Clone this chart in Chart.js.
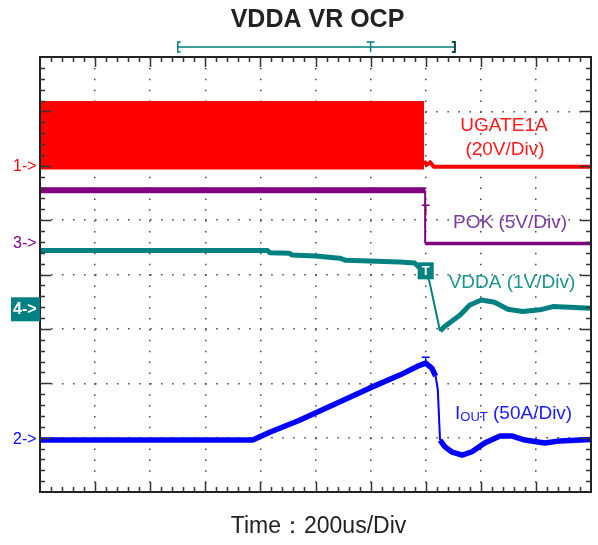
<!DOCTYPE html>
<html>
<head>
<meta charset="utf-8">
<script src="https://cdn.jsdelivr.net/npm/chart.js@4.4.0/dist/chart.umd.min.js"></script>
<style>
  html, body { margin: 0; padding: 0; background: #fff; }
  #wrap { width: 598px; height: 545px; position: relative; }
</style>
</head>
<body>
<div id="wrap"><canvas id="scope" width="598" height="545"></canvas></div>
<script>
// Screen is 10 x 8 divisions, time base 200us/div
var DIV_X = 10, DIV_Y = 8;

// UGATE1A (ch1) - switching envelope, then the off level after OCP
var ugateEnvX  = [0, 6.97];
var ugateEnvHi = [7.18, 7.18];
var ugateEnvLo = [5.94, 5.94];
var ugateOffX  = [6.97, 7.02, 7.08, 7.15, 10];
var ugateOffY  = [6.08, 6.02, 6.06, 5.98, 5.98];

// POK (ch3)
var pokX = [0, 6.99, 6.99, 10];
var pokY = [5.55, 5.55, 4.57, 4.57];

// VDDA (ch4)
var vddaX = [0, 4.13, 4.17, 4.53, 4.57, 5.0, 5.44, 5.55, 6.53, 6.80, 6.86, 7.0, 7.07, 7.26, 7.35, 7.62, 7.8, 8.01, 8.25, 8.49, 8.76, 9.07, 9.31, 10];
var vddaY = [4.44, 4.44, 4.40, 4.39, 4.36, 4.34, 4.30, 4.26, 4.23, 4.21, 4.15, 4.04, 3.86, 2.96, 3.05, 3.25, 3.44, 3.53, 3.49, 3.36, 3.32, 3.35, 3.41, 3.38];

// IOUT (ch2)
var ioutX = [0, 3.86, 4.17, 4.71, 5.98, 6.53, 6.89, 7.0, 7.11, 7.18, 7.22, 7.26, 7.35, 7.47, 7.66, 7.84, 8.07, 8.35, 8.56, 8.80, 9.16, 9.44, 10];
var ioutY = [0.956, 0.956, 1.10, 1.32, 1.91, 2.15, 2.33, 2.37, 2.28, 2.13, 1.88, 0.956, 0.83, 0.74, 0.68, 0.74, 0.90, 1.03, 1.03, 0.956, 0.90, 0.94, 0.965];

// channel ground markers on the left edge
var markerNames  = ['1->', '3->', '4->', '2->'];
var markerLevels = [5.98, 4.57, 3.36, 0.956];

// trigger and memory bar
var triggerX = 7.0;
var memBarStart = 2.5, memBarEnd = 7.53, memBarTrig = 6.0;

var RED = '#ff0000', PURPLE = '#800080', TEAL = '#008080', BLUE = '#0000ff';

function pts(xs, ys) {
	var out = [];
	for (var i = 0; i < xs.length; i++) out.push({ x: xs[i], y: ys[i] });
	return out;
}

// steep edges of a scope trace look thin, flat parts look thick
function traceWidth(thick, thin) {
	return function (ctx) {
		var dx = Math.abs(ctx.p1.x - ctx.p0.x), dy = Math.abs(ctx.p1.y - ctx.p0.y);
		return dy > 2.5 * dx ? thin : thick;
	};
}

var scopePlugin = {
	id: 'scopeDecor',
	afterDatasetsDraw: function (chart) {
		var c = chart.ctx, xs = chart.scales.x, ys = chart.scales.y, a = chart.chartArea;
		var tx = xs.getPixelForValue(triggerX);
		c.save();
		// trigger marks on traces
		c.strokeStyle = PURPLE; c.lineWidth = 1.5;
		var py = ys.getPixelForValue(5.2);
		c.beginPath(); c.moveTo(tx - 4, py - 4); c.lineTo(tx + 4, py - 4); c.moveTo(tx, py - 4); c.lineTo(tx, py + 6); c.stroke();
		c.strokeStyle = BLUE;
		var iy = ys.getPixelForValue(2.37);
		c.beginPath(); c.moveTo(tx - 4, iy - 6); c.lineTo(tx + 4, iy - 6); c.moveTo(tx, iy - 6); c.lineTo(tx, iy); c.stroke();
		// T box on VDDA
		var vy = ys.getPixelForValue(4.04);
		c.fillStyle = TEAL;
		c.fillRect(tx - 8, vy - 10, 16, 17);
		c.fillStyle = '#fff';
		c.font = 'bold 13px "Liberation Sans", Arial, sans-serif';
		c.textAlign = 'center'; c.textBaseline = 'middle';
		c.fillText('T', tx, vy - 1);
		c.restore();
	},
	afterDraw: function (chart) {
		var c = chart.ctx, xs = chart.scales.x, ys = chart.scales.y, a = chart.chartArea;
		var i, p, len;
		c.save();
		// frame
		c.strokeStyle = '#222'; c.lineWidth = 2;
		c.strokeRect(a.left, a.top, a.right - a.left, a.bottom - a.top);
		// inward ticks, 5 per division
		c.strokeStyle = '#333'; c.lineWidth = 1.5;
		c.beginPath();
		for (i = 1; i < DIV_X * 5; i++) {
			p = Math.round(xs.getPixelForValue(i / 5)) + 0.5;
			len = i % 5 === 0 ? 10 : 5;
			c.moveTo(p, a.top); c.lineTo(p, a.top + len);
			c.moveTo(p, a.bottom); c.lineTo(p, a.bottom - len);
		}
		for (i = 1; i < DIV_Y * 5; i++) {
			p = Math.round(ys.getPixelForValue(i / 5)) + 0.5;
			len = i % 5 === 0 ? 11 : 5;
			c.moveTo(a.left, p); c.lineTo(a.left + len, p);
			c.moveTo(a.right, p); c.lineTo(a.right - len, p);
		}
		c.stroke();

		// title and time base
		var cx = (a.left + a.right) / 2 + 2;
		c.fillStyle = '#222';
		c.textAlign = 'center'; c.textBaseline = 'middle';
		c.font = 'bold 25px "Liberation Sans", Arial, sans-serif';
		c.fillText('VDDA VR OCP', cx, 20);
		c.font = '23px "Liberation Sans", Arial, sans-serif';
		c.fillText('Time\uFF1A200us/Div', cx + 1, 527);

		// memory bar
		var b0 = xs.getPixelForValue(memBarStart), b1 = xs.getPixelForValue(memBarEnd), bt = xs.getPixelForValue(memBarTrig);
		c.strokeStyle = TEAL; c.lineWidth = 1.5;
		c.beginPath();
		c.moveTo(b0, 47); c.lineTo(b1, 47);
		c.moveTo(b0 + 3, 42); c.lineTo(b0, 42); c.lineTo(b0, 52); c.lineTo(b0 + 3, 52);
		c.moveTo(bt - 4, 42); c.lineTo(bt + 4, 42); c.moveTo(bt, 42); c.lineTo(bt, 52);
		c.stroke();
		c.strokeStyle = '#114444'; c.lineWidth = 2;
		c.beginPath();
		c.moveTo(b1 - 3, 42); c.lineTo(b1, 42); c.lineTo(b1, 52); c.lineTo(b1 - 3, 52);
		c.stroke();

		// channel markers
		var mColors = [RED, PURPLE, null, BLUE];
		c.font = '16px "Liberation Sans", Arial, sans-serif';
		c.textAlign = 'left'; c.textBaseline = 'middle';
		for (i = 0; i < markerNames.length; i++) {
			p = ys.getPixelForValue(markerLevels[i]);
			if (mColors[i] === null) {
				c.fillStyle = TEAL;
				c.fillRect(11, p - 12, 29, 24);
				c.fillStyle = '#fff';
				c.font = 'bold 16px "Liberation Sans", Arial, sans-serif';
				c.fillText(markerNames[i], 13, p);
				c.font = '16px "Liberation Sans", Arial, sans-serif';
			} else {
				c.fillStyle = mColors[i];
				c.fillText(markerNames[i], 13, p);
			}
		}

		// trace labels
		c.font = '19px "Liberation Sans", Arial, sans-serif';
		c.textAlign = 'center'; c.textBaseline = 'middle';
		c.fillStyle = '#ff1a1a';
		c.fillText('UGATE1A', 504, 126);
		c.fillText('(20V/Div)', 505, 150);
		c.fillStyle = '#7a3a9e';
		c.fillText('POK (5V/Div)', 510, 223);
		c.fillStyle = '#1a948c';
		c.fillText('VDDA (1V/Div)', 512, 283);
		// IOUT with subscript
		c.fillStyle = '#1a1aff';
		c.textAlign = 'left'; c.textBaseline = 'alphabetic';
		var lx = 455, ly = 419;
		c.fillText('I', lx, ly);
		lx += c.measureText('I').width;
		c.font = '13px "Liberation Sans", Arial, sans-serif';
		c.fillText('OUT', lx, ly + 2);
		lx += c.measureText('OUT').width;
		c.font = '19px "Liberation Sans", Arial, sans-serif';
		c.fillText(' (50A/Div)', lx, ly);
		c.restore();
	}
};

new Chart(document.getElementById('scope'), {
	type: 'line',
	data: {
		datasets: [
			{ label: 'UGATE1A env', data: pts(ugateEnvX, ugateEnvHi), borderColor: RED, borderWidth: 1, backgroundColor: RED, fill: '+1', pointRadius: 0 },
			{ label: 'UGATE1A env low', data: pts(ugateEnvX, ugateEnvLo), borderColor: RED, borderWidth: 1, pointRadius: 0, fill: false },
			{ label: 'UGATE1A', data: pts(ugateOffX, ugateOffY), borderColor: RED, borderWidth: 4, pointRadius: 0, fill: false },
			{ label: 'POK', data: pts(pokX, pokY), borderColor: PURPLE, pointRadius: 0, fill: false,
				segment: { borderWidth: function (ctx) {
					if (Math.abs(ctx.p1.y - ctx.p0.y) > Math.abs(ctx.p1.x - ctx.p0.x)) return 2;
					return ctx.p0.parsed.y > 5 ? 6 : 3.5;
				} } },
			{ label: 'VDDA', data: pts(vddaX, vddaY), borderColor: TEAL, pointRadius: 0, fill: false, borderJoinStyle: 'round',
				segment: { borderWidth: traceWidth(5, 2) } },
			{ label: 'IOUT', data: pts(ioutX, ioutY), borderColor: BLUE, pointRadius: 0, fill: false, borderJoinStyle: 'round',
				segment: { borderWidth: traceWidth(5.5, 2) } }
		]
	},
	options: {
		responsive: false,
		animation: false,
		layout: { padding: { left: 40, top: 57, right: 7, bottom: 53 } },
		plugins: { legend: { display: false }, tooltip: { enabled: false }, title: { display: false } },
		scales: {
			x: {
				type: 'linear', min: 0, max: DIV_X,
				ticks: { display: false, stepSize: 1 },
				grid: { color: '#444', lineWidth: 1.5, drawTicks: false },
				border: { display: false, dash: [1.5, 9.375] }
			},
			y: {
				type: 'linear', min: 0, max: DIV_Y,
				ticks: { display: false, stepSize: 1 },
				grid: { color: '#444', lineWidth: 1.5, drawTicks: false },
				border: { display: false, dash: [1.5, 9.51] }
			}
		}
	},
	plugins: [scopePlugin]
});
</script>
</body>
</html>
